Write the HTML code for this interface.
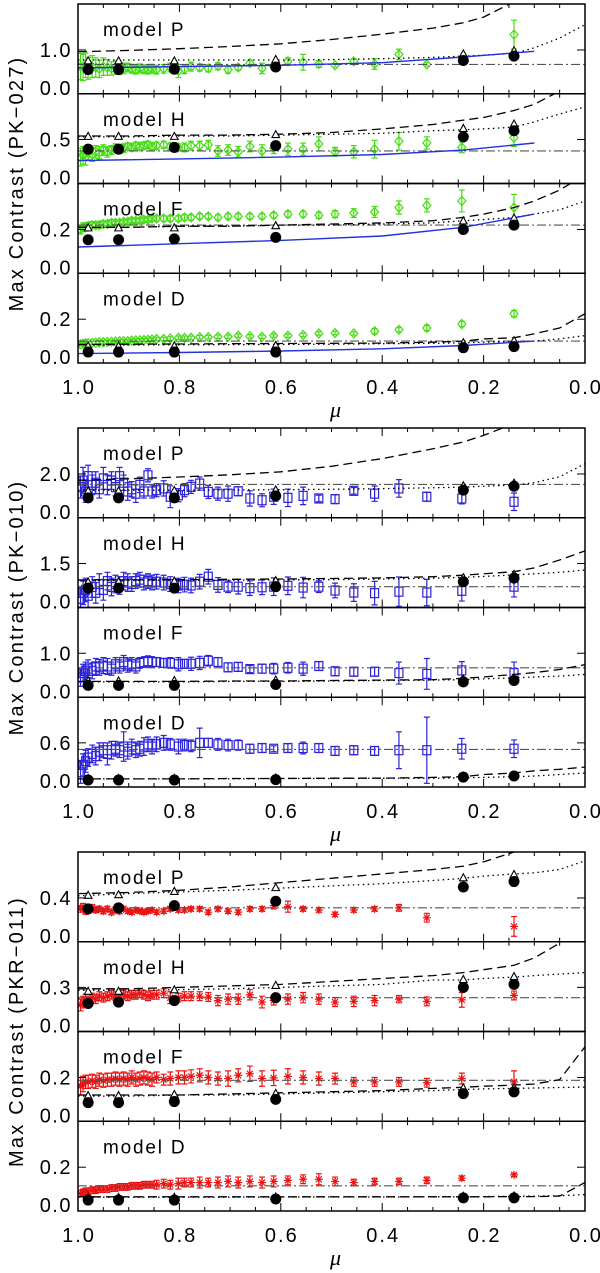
<!DOCTYPE html>
<html><head><meta charset="utf-8"><style>
html,body{margin:0;padding:0;background:#fff;}
svg{display:block;font-family:"Liberation Sans",sans-serif;}
</style></head><body>
<svg id="chart" width="600" height="1273" viewBox="0 0 600 1273" xmlns="http://www.w3.org/2000/svg"></svg>
<script>
// ---------- shared x positions ----------
const mu = [0.995,0.99,0.985,0.98,0.972,0.965,0.958,0.95,0.942,0.934,0.926,0.918,0.91,0.902,0.894,0.886,0.878,0.87,0.862,0.854,0.845,0.831,0.818,0.802,0.79,0.777,0.76,0.743,0.724,0.704,0.684,0.661,0.637,0.614,0.586,0.556,0.525,0.493,0.456,0.415,0.367,0.312,0.243,0.14];
const modelMu = [0.98,0.92,0.81,0.61,0.24,0.14];
const curveMu = [1,0.9,0.8,0.7,0.6,0.5,0.4,0.3,0.24,0.2,0.14,0.1,0.05,0];
const blueMu = [1,0.8,0.6,0.4,0.24,0.1];
const xTicks = [1.0,0.8,0.6,0.4,0.2,0.0];
const xTickLabels = ["1.0","0.8","0.6","0.4","0.2","0.0"];
const groupTitles = ["Max Contrast (PK\u2212027)","Max Contrast (PK\u2212010)","Max Contrast (PKR\u2212011)"];
const modelNames = ["P","H","F","D"];
const yRanges = [[2.05,1.02,0.41,0.41],[4.1,3.06,2.04,1.22],[0.82,0.61,0.41,0.41]];
const yTickVals = [[1.0,0.5,0.2,0.2],[2.0,1.5,1.0,0.6],[0.4,0.3,0.2,0.2]];
const yTickLabels = [["1.0","0.5","0.2","0.2"],["2.0","1.5","1.0","0.6"],["0.4","0.3","0.2","0.2"]];

// ---------- group 1 (PK-027, green diamonds) ----------
const g1P_val = [0.62,0.6,0.65,0.58,0.62,0.6,0.57,0.62,0.6,0.58,0.6,0.56,0.58,0.6,0.57,0.55,0.58,0.56,0.55,0.57,0.55,0.57,0.6,0.52,0.56,0.62,0.6,0.58,0.63,0.55,0.6,0.7,0.58,0.63,0.74,0.72,0.68,0.65,0.74,0.68,0.9,0.67,null,1.35];
const g1P_err = [0.3,0.3,0.28,0.25,0.25,0.22,0.2,0.2,0.18,0.15,0.15,0.12,0.12,0.1,0.1,0.1,0.1,0.1,0.1,0.1,0.1,0.1,0.1,0.15,0.1,0.1,0.08,0.08,0.08,0.08,0.06,0.06,0.12,0.06,0.08,0.18,0.08,0.04,0.06,0.12,0.12,0.04,0,0.33];
const g1H_val = [0.3,0.32,0.3,0.35,0.33,0.36,0.35,0.38,0.36,0.38,0.4,0.39,0.4,0.42,0.41,0.43,0.42,0.43,0.44,0.42,0.43,0.44,0.42,0.41,0.41,0.43,0.43,0.44,0.37,0.38,0.36,0.42,0.37,0.4,0.39,0.39,0.45,0.36,0.36,0.39,0.48,0.46,0.41,0.52];
const g1H_err = [0.1,0.1,0.09,0.08,0.08,0.07,0.07,0.06,0.06,0.05,0.05,0.05,0.05,0.04,0.04,0.04,0.04,0.04,0.04,0.04,0.04,0.04,0.04,0.04,0.05,0.05,0.05,0.05,0.06,0.06,0.06,0.06,0.07,0.06,0.07,0.07,0.08,0.05,0.07,0.1,0.1,0.07,0.06,0.1];
const g1F_val = [0.2,0.21,0.21,0.215,0.22,0.22,0.22,0.225,0.225,0.23,0.23,0.23,0.235,0.235,0.24,0.24,0.24,0.245,0.245,0.25,0.25,0.25,0.25,0.25,0.255,0.255,0.26,0.26,0.255,0.26,0.26,0.26,0.26,0.265,0.27,0.27,0.265,0.27,0.275,0.28,0.3,0.31,0.33,0.3];
const g1F_err = [0.02,0.02,0.018,0.018,0.016,0.016,0.015,0.015,0.014,0.014,0.013,0.013,0.012,0.012,0.012,0.012,0.012,0.012,0.012,0.012,0.012,0.012,0.012,0.012,0.012,0.012,0.012,0.012,0.012,0.012,0.012,0.012,0.012,0.012,0.014,0.014,0.014,0.016,0.02,0.025,0.03,0.03,0.05,0.06];
const g1D_val = [0.085,0.088,0.09,0.09,0.092,0.093,0.094,0.095,0.096,0.097,0.098,0.099,0.1,0.1,0.102,0.103,0.104,0.105,0.106,0.107,0.11,0.11,0.112,0.115,0.115,0.115,0.118,0.118,0.12,0.12,0.125,0.122,0.12,0.125,0.125,0.128,0.135,0.137,0.135,0.145,0.152,0.16,0.178,0.225];
const g1D_err = [0.008,0.008,0.008,0.008,0.008,0.008,0.008,0.008,0.008,0.008,0.008,0.008,0.008,0.008,0.008,0.008,0.008,0.008,0.008,0.008,0.008,0.008,0.008,0.008,0.008,0.008,0.008,0.008,0.008,0.008,0.008,0.008,0.008,0.008,0.008,0.008,0.008,0.008,0.008,0.012,0.01,0.012,0.012,0.015];
const g1P_dash = [0.96,0.99,1.03,1.08,1.14,1.24,1.36,1.5,1.62,1.75,2.1,2.4,2.8,3.2];
const g1P_dot = [0.77,0.77,0.77,0.77,0.77,0.78,0.8,0.83,0.86,0.88,0.92,1.05,1.27,1.58];
const g1H_dash = [0.54,0.54,0.55,0.55,0.56,0.58,0.62,0.67,0.72,0.75,0.83,0.9,1.05,1.2];
const g1H_dot = [0.53,0.53,0.54,0.54,0.55,0.56,0.57,0.6,0.61,0.62,0.64,0.7,0.79,0.87];
const g1F_dash = [0.21,0.21,0.215,0.215,0.22,0.225,0.23,0.24,0.255,0.27,0.3,0.33,0.38,0.45];
const g1F_dot = [0.21,0.21,0.215,0.215,0.22,0.22,0.225,0.23,0.24,0.245,0.255,0.27,0.29,0.33];
const g1D_dash = [0.085,0.086,0.087,0.088,0.089,0.09,0.091,0.095,0.1,0.11,0.115,0.134,0.16,0.225];
const g1D_dot = [0.082,0.083,0.083,0.084,0.085,0.086,0.088,0.09,0.092,0.095,0.098,0.1,0.11,0.125];
const g1_dashdot = [0.67,0.37,0.22,0.1];
const g1P_blue = [0.59,0.62,0.65,0.71,0.84,0.97];
const g1H_blue = [0.26,0.28,0.3,0.33,0.38,0.46];
const g1F_blue = [0.12,0.135,0.15,0.17,0.21,0.27];
const g1D_blue = [0.043,0.048,0.055,0.065,0.08,0.1];
const g1P_circ = [0.55,0.55,0.56,0.61,0.76,0.86];
const g1H_circ = [0.39,0.39,0.41,0.43,0.53,0.6];
const g1F_circ = [0.153,0.153,0.157,0.164,0.2,0.22];
const g1D_circ = [0.05,0.05,0.05,0.05,0.07,0.075];
const g1P_tri = [0.74,0.74,0.74,0.77,0.9,0.97];
const g1H_tri = [0.53,0.53,0.53,0.55,0.62,0.67];
const g1F_tri = [0.205,0.205,0.205,0.215,0.237,0.25];
const g1D_tri = [0.075,0.075,0.076,0.078,0.09,0.1];

// ---------- group 2 (PK-010, blue squares) ----------
const g2P_val = [1.4,1.7,1.2,1.9,1.5,1.6,1.3,1.8,1.5,1.7,1.4,1.9,1.6,1.2,1.3,1.1,1.5,1.2,1.94,1.2,1.26,1.34,0.96,1.03,1.26,1.41,1.56,1.18,1.1,1.1,1.21,0.88,0.8,0.96,0.91,1.0,0.88,0.85,1.23,1.1,1.34,0.96,0.88,0.73];
const g2P_err = [0.5,0.6,0.5,0.5,0.45,0.5,0.4,0.5,0.45,0.4,0.4,0.4,0.35,0.4,0.35,0.4,0.35,0.3,0.3,0.3,0.3,0.35,0.5,0.3,0.3,0.3,0.3,0.3,0.3,0.35,0.2,0.35,0.3,0.35,0.4,0.4,0.15,0.2,0.15,0.35,0.4,0.2,0.25,0.4];
const g2H_val = [0.3,0.5,0.6,0.4,0.7,0.5,0.8,0.6,0.9,0.7,0.8,0.75,0.9,0.85,0.8,0.9,0.95,0.85,0.9,0.85,0.88,0.85,0.8,0.75,0.78,0.75,0.88,1.05,0.77,0.71,0.71,0.66,0.69,0.71,0.74,0.68,0.71,0.58,0.51,0.49,0.54,0.51,0.57,0.71];
const g2H_err = [0.4,0.4,0.4,0.4,0.35,0.35,0.35,0.35,0.3,0.3,0.3,0.3,0.3,0.3,0.25,0.25,0.25,0.25,0.25,0.25,0.25,0.25,0.25,0.25,0.25,0.25,0.25,0.25,0.25,0.2,0.25,0.25,0.25,0.3,0.3,0.35,0.2,0.25,0.3,0.4,0.5,0.45,0.35,0.35];
const g2F_val = [0.45,0.55,0.6,0.65,0.6,0.7,0.68,0.72,0.7,0.65,0.75,0.7,0.8,0.72,0.75,0.7,0.78,0.8,0.82,0.8,0.8,0.78,0.78,0.75,0.76,0.76,0.78,0.83,0.8,0.68,0.69,0.64,0.65,0.65,0.67,0.65,0.71,0.59,0.58,0.58,0.55,0.53,0.61,0.55];
const g2F_err = [0.2,0.2,0.2,0.2,0.18,0.18,0.18,0.18,0.18,0.15,0.15,0.15,0.15,0.15,0.15,0.15,0.12,0.12,0.12,0.12,0.1,0.1,0.12,0.15,0.1,0.15,0.15,0.12,0.1,0.1,0.1,0.08,0.1,0.12,0.12,0.15,0.1,0.1,0.1,0.1,0.25,0.35,0.2,0.25];
const g2D_val = [0.2,0.3,0.35,0.4,0.45,0.42,0.48,0.5,0.45,0.5,0.52,0.5,0.55,0.48,0.55,0.5,0.52,0.55,0.58,0.55,0.58,0.6,0.58,0.55,0.57,0.56,0.6,0.6,0.58,0.57,0.57,0.52,0.53,0.52,0.53,0.53,0.53,0.49,0.5,0.49,0.5,0.5,0.52,0.52];
const g2D_err = [0.15,0.15,0.15,0.12,0.12,0.12,0.12,0.1,0.15,0.12,0.1,0.1,0.2,0.1,0.1,0.1,0.1,0.12,0.1,0.1,0.1,0.1,0.08,0.1,0.08,0.08,0.2,0.06,0.08,0.08,0.07,0.06,0.06,0.04,0.06,0.08,0.06,0.06,0.06,0.06,0.25,0.45,0.14,0.12];
const g2P_dash = [1.71,1.78,1.86,1.96,2.1,2.35,2.7,3.15,3.46,3.76,4.3,4.8,5.5,6];
const g2P_dot = [1.26,1.26,1.26,1.27,1.28,1.3,1.33,1.37,1.4,1.44,1.49,1.6,1.87,2.47];
const g2H_dash = [0.94,0.94,0.95,0.96,0.97,0.99,1.01,1.05,1.1,1.15,1.22,1.35,1.62,1.93];
const g2H_dot = [0.92,0.92,0.93,0.93,0.94,0.95,0.97,1.0,1.03,1.06,1.11,1.15,1.2,1.28];
const g2F_dash = [0.36,0.36,0.36,0.37,0.37,0.38,0.39,0.4,0.43,0.46,0.52,0.56,0.63,0.74];
const g2F_dot = [0.35,0.35,0.35,0.36,0.36,0.37,0.38,0.39,0.4,0.42,0.44,0.46,0.48,0.52];
const g2D_dash = [0.11,0.11,0.11,0.115,0.115,0.12,0.12,0.13,0.14,0.17,0.19,0.22,0.24,0.27];
const g2D_dot = [0.11,0.11,0.11,0.11,0.115,0.115,0.12,0.12,0.125,0.13,0.14,0.15,0.17,0.19];
const g2_dashdot = [1.52,0.71,0.67,0.51];
const g2P_circ = [0.91,0.91,0.91,1.0,1.26,1.44];
const g2H_circ = [0.66,0.66,0.66,0.71,0.88,1.0];
const g2F_circ = [0.27,0.27,0.27,0.29,0.35,0.38];
const g2D_circ = [0.095,0.095,0.095,0.1,0.135,0.15];
const g2P_tri = [1.2,1.2,1.22,1.25,1.44,1.56];
const g2H_tri = [0.85,0.86,0.88,0.9,1.0,1.11];
const g2F_tri = [0.36,0.36,0.37,0.38,0.4,0.42];
const g2D_tri = [0.11,0.11,0.11,0.115,0.14,0.15];

// ---------- group 3 (PKR-011, red asterisks) ----------
const g3P_val = [0.3,0.32,0.28,0.3,0.31,0.29,0.3,0.28,0.3,0.27,0.29,0.28,0.3,0.28,0.27,0.29,0.28,0.27,0.28,0.29,0.27,0.28,0.3,0.29,0.29,0.3,0.3,0.27,0.3,0.28,0.27,0.3,0.3,0.33,0.32,0.3,0.29,0.25,0.29,0.3,0.31,0.22,null,0.14];
const g3P_err = [0.03,0.03,0.03,0.03,0.03,0.025,0.025,0.025,0.025,0.025,0.025,0.025,0.02,0.02,0.02,0.02,0.02,0.02,0.02,0.02,0.02,0.02,0.02,0.02,0.02,0.02,0.02,0.02,0.02,0.02,0.02,0.02,0.02,0.03,0.05,0.02,0.02,0.02,0.02,0.02,0.03,0.04,0,0.09];
const g3H_val = [0.18,0.2,0.22,0.21,0.23,0.22,0.24,0.23,0.24,0.25,0.24,0.25,0.25,0.24,0.25,0.25,0.26,0.25,0.24,0.25,0.25,0.26,0.23,0.23,0.24,0.24,0.24,0.235,0.21,0.22,0.22,0.25,0.2,0.21,0.22,0.23,0.22,0.2,0.205,0.21,0.22,0.205,0.215,0.245];
const g3H_err = [0.04,0.04,0.035,0.03,0.03,0.03,0.03,0.03,0.03,0.03,0.03,0.03,0.03,0.03,0.03,0.03,0.03,0.03,0.03,0.03,0.03,0.03,0.04,0.03,0.03,0.03,0.03,0.03,0.035,0.035,0.035,0.035,0.04,0.03,0.035,0.035,0.035,0.03,0.035,0.035,0.025,0.03,0.05,0.03];
const g3F_val = [0.16,0.17,0.18,0.18,0.185,0.18,0.19,0.185,0.19,0.19,0.195,0.19,0.195,0.19,0.2,0.19,0.195,0.2,0.195,0.19,0.2,0.19,0.195,0.2,0.2,0.205,0.21,0.2,0.195,0.195,0.21,0.217,0.195,0.198,0.205,0.2,0.195,0.195,0.18,0.18,0.18,0.176,0.195,0.18];
const g3F_err = [0.04,0.035,0.03,0.03,0.03,0.03,0.03,0.03,0.03,0.03,0.03,0.03,0.03,0.03,0.03,0.03,0.03,0.03,0.03,0.03,0.025,0.025,0.03,0.03,0.03,0.03,0.03,0.03,0.03,0.035,0.03,0.035,0.035,0.035,0.035,0.03,0.03,0.025,0.02,0.02,0.02,0.02,0.025,0.05];
const g3D_val = [0.08,0.085,0.09,0.09,0.095,0.095,0.1,0.1,0.1,0.105,0.105,0.11,0.11,0.11,0.115,0.115,0.115,0.12,0.12,0.12,0.12,0.125,0.12,0.125,0.13,0.13,0.13,0.13,0.13,0.135,0.13,0.135,0.13,0.135,0.14,0.145,0.145,0.135,0.13,0.135,0.135,0.14,0.15,0.165];
const g3D_err = [0.015,0.015,0.015,0.015,0.015,0.015,0.015,0.015,0.015,0.015,0.015,0.015,0.015,0.015,0.015,0.015,0.015,0.015,0.015,0.015,0.02,0.02,0.02,0.025,0.02,0.02,0.025,0.02,0.025,0.025,0.025,0.025,0.025,0.025,0.02,0.02,0.025,0.02,0.015,0.015,0.015,0.015,0.01,0.008];
const g3P_dash = [0.44,0.45,0.47,0.5,0.54,0.58,0.62,0.66,0.69,0.73,0.82,0.9,1.0,1.1];
const g3P_dot = [0.42,0.44,0.455,0.47,0.49,0.51,0.53,0.56,0.58,0.6,0.62,0.63,0.66,0.74];
const g3H_dash = [0.29,0.29,0.3,0.31,0.32,0.34,0.36,0.38,0.4,0.42,0.45,0.5,0.6,0.7];
const g3H_dot = [0.28,0.28,0.285,0.29,0.3,0.31,0.32,0.35,0.35,0.36,0.37,0.38,0.39,0.4];
const g3F_dash = [0.12,0.12,0.12,0.125,0.13,0.135,0.14,0.15,0.155,0.16,0.165,0.17,0.19,0.34];
const g3F_dot = [0.115,0.115,0.12,0.12,0.125,0.13,0.135,0.14,0.145,0.148,0.15,0.152,0.154,0.156];
const g3D_dash = [0.065,0.065,0.065,0.065,0.065,0.065,0.065,0.065,0.065,0.065,0.066,0.066,0.068,0.13];
const g3D_dot = [0.063,0.063,0.063,0.063,0.064,0.064,0.064,0.065,0.065,0.066,0.067,0.068,0.07,0.075];
const g3_dashdot = [0.31,0.23,0.187,0.115];
const g3P_circ = [0.3,0.31,0.33,0.37,0.5,0.55];
const g3H_circ = [0.19,0.2,0.21,0.23,0.3,0.32];
const g3F_circ = [0.085,0.085,0.09,0.1,0.126,0.134];
const g3D_circ = [0.05,0.05,0.05,0.055,0.06,0.06];
const g3P_tri = [0.42,0.425,0.455,0.49,0.58,0.61];
const g3H_tri = [0.27,0.27,0.28,0.31,0.35,0.37];
const g3F_tri = [0.115,0.115,0.12,0.125,0.15,0.15];
const g3D_tri = [0.06,0.06,0.06,0.062,0.065,0.066];

const groups = [
  {top:4, color:"#44dd11", marker:"diamond", name:"pk027",
   val:[g1P_val,g1H_val,g1F_val,g1D_val], err:[g1P_err,g1H_err,g1F_err,g1D_err],
   dash:[g1P_dash,g1H_dash,g1F_dash,g1D_dash], dot:[g1P_dot,g1H_dot,g1F_dot,g1D_dot], dd:g1_dashdot,
   blue:[g1P_blue,g1H_blue,g1F_blue,g1D_blue],
   circ:[g1P_circ,g1H_circ,g1F_circ,g1D_circ], tri:[g1P_tri,g1H_tri,g1F_tri,g1D_tri]},
  {top:428, color:"#2b22dd", marker:"square", name:"pk010",
   val:[g2P_val,g2H_val,g2F_val,g2D_val], err:[g2P_err,g2H_err,g2F_err,g2D_err],
   dash:[g2P_dash,g2H_dash,g2F_dash,g2D_dash], dot:[g2P_dot,g2H_dot,g2F_dot,g2D_dot], dd:g2_dashdot,
   blue:null,
   circ:[g2P_circ,g2H_circ,g2F_circ,g2D_circ], tri:[g2P_tri,g2H_tri,g2F_tri,g2D_tri]},
  {top:852, color:"#ee1111", marker:"star", name:"pkr011",
   val:[g3P_val,g3H_val,g3F_val,g3D_val], err:[g3P_err,g3H_err,g3F_err,g3D_err],
   dash:[g3P_dash,g3H_dash,g3F_dash,g3D_dash], dot:[g3P_dot,g3H_dot,g3F_dot,g3D_dot], dd:g3_dashdot,
   blue:null,
   circ:[g3P_circ,g3H_circ,g3F_circ,g3D_circ], tri:[g3P_tri,g3H_tri,g3F_tri,g3D_tri]}
];

const NS = "http://www.w3.org/2000/svg";
const svg = document.getElementById("chart");
const X0 = 78, X1 = 585, PH = 89.75;
function xs(m){ return X0 + (1 - m) * (X1 - X0); }
function mk(tag, attrs, parent){
  const e = document.createElementNS(NS, tag);
  for (const k in attrs) e.setAttribute(k, attrs[k]);
  (parent || svg).appendChild(e);
  return e;
}
const defs = mk("defs", {});

groups.forEach((g, gi) => {
  const gEl = mk("g", {});
  
  
  const gBottom = g.top + 4 * PH;
  for (let p = 0; p < 4; p++) {
    const top = g.top + p * PH, bot = top + PH, R = yRanges[gi][p];
    const ys = v => bot - v / R * PH;
    const cid = "clip" + gi + p;
    const cp = mk("clipPath", {id: cid}, defs);
    mk("rect", {x: X0, y: top, width: X1 - X0, height: PH}, cp);
    const pEl = mk("g", {}, gEl);
    
    
    const plot = mk("g", {"clip-path": "url(#" + cid + ")"}, pEl);
    const vals = g.val[p], errs = g.err[p];
    for (let i = 0; i < mu.length; i++) {
      if (vals[i] === null) continue;
      const x = xs(mu[i]), y = ys(vals[i]);
      const pt = mk("g", {stroke: g.color, fill: "none", "stroke-width": 1.2}, plot);
      
      
      const e = errs[i] / R * PH;
      if (e > 1) {
        mk("line", {x1: x, y1: y - e, x2: x, y2: y + e}, pt);
        mk("line", {x1: x - 3, y1: y - e, x2: x + 3, y2: y - e}, pt);
        mk("line", {x1: x - 3, y1: y + e, x2: x + 3, y2: y + e}, pt);
      }
      if (g.marker === "diamond") {
        mk("polygon", {points: `${x},${y-4.5} ${x+4},${y} ${x},${y+4.5} ${x-4},${y}`}, pt);
      } else if (g.marker === "square") {
        mk("rect", {x: x - 4, y: y - 4.5, width: 8, height: 9}, pt);
      } else {
        mk("path", {d: `M${x-4},${y}H${x+4}M${x},${y-4}V${y+4}M${x-3},${y-3}L${x+3},${y+3}M${x-3},${y+3}L${x+3},${y-3}`}, pt);
      }
    }
    const ddy = ys(g.dd[p]);
    const dd = mk("line", {x1: X0, y1: ddy, x2: X1, y2: ddy, stroke: "#555", "stroke-width": 1.1, "stroke-dasharray": "9,3,2,3"}, plot);
    
    
    const pathOf = arr => curveMu.map((m, i) => (i ? "L" : "M") + xs(m).toFixed(1) + "," + ys(arr[i]).toFixed(1)).join("");
    const dsh = mk("path", {d: pathOf(g.dash[p]), fill: "none", stroke: "#000", "stroke-width": 1.3, "stroke-dasharray": "9,5"}, plot);
    
    
    const dtt = mk("path", {d: pathOf(g.dot[p]), fill: "none", stroke: "#000", "stroke-width": 1.3, "stroke-dasharray": "1.5,3.5"}, plot);
    
    
    if (g.blue) {
      const bl = mk("path", {d: blueMu.map((m, i) => (i ? "L" : "M") + xs(m).toFixed(1) + "," + ys(g.blue[p][i]).toFixed(1)).join(""), fill: "none", stroke: "#2233dd", "stroke-width": 1.4}, plot);
      
      
    }
    for (let i = 0; i < modelMu.length; i++) {
      const x = xs(modelMu[i]);
      const ty = ys(g.tri[p][i]);
      const t = mk("polygon", {points: `${x},${ty-4.5} ${x+3.8},${ty+2.5} ${x-3.8},${ty+2.5}`, fill: "#fff", stroke: "#000", "stroke-width": 1.1}, plot);
      
      
    }
    for (let i = 0; i < modelMu.length; i++) {
      const c = mk("circle", {cx: xs(modelMu[i]), cy: ys(g.circ[p][i]), r: 5.5, fill: "#000"}, plot);
      
      
    }
    const fr = mk("rect", {x: X0, y: top, width: X1 - X0, height: PH, fill: "none", stroke: "#000", "stroke-width": 1.5}, pEl);
    
    
    for (let k = 0; k <= 20; k++) {
      const m = k * 0.05, x = xs(m), L = (k % 4 === 0) ? 8 : 4;
      mk("line", {x1: x, y1: bot, x2: x, y2: bot - L, stroke: "#000", "stroke-width": 1}, pEl);
      mk("line", {x1: x, y1: top, x2: x, y2: top + L, stroke: "#000", "stroke-width": 1}, pEl);
    }
    const ty = ys(yTickVals[gi][p]);
    mk("line", {x1: X0, y1: ty, x2: X0 + 8, y2: ty, stroke: "#000", "stroke-width": 1}, pEl);
    mk("line", {x1: X1, y1: ty, x2: X1 - 8, y2: ty, stroke: "#000", "stroke-width": 1}, pEl);
    const tl = mk("text", {x: 72, y: ty + 7, "text-anchor": "end", "font-size": 20, "letter-spacing": 1.5}, pEl);
    tl.textContent = yTickLabels[gi][p];
    
    
    const zl = mk("text", {x: 72, y: bot + 1, "text-anchor": "end", "font-size": 20, "letter-spacing": 1.5}, pEl);
    zl.textContent = "0.0";
    
    
    const ml = mk("text", {x: 103, y: top + 32, "font-size": 19, "letter-spacing": 1.8, "xml:space": "preserve"}, pEl);
    ml.textContent = "model  " + modelNames[p];
    
    
  }
  xTicks.forEach((m, i) => {
    const t = mk("text", {x: xs(m) + 1, y: gBottom + 31, "text-anchor": "middle", "font-size": 20, "letter-spacing": 2}, gEl);
    t.textContent = xTickLabels[i];
    
    
  });
  const mt = mk("text", {x: (X0 + X1) / 2 + 4, y: gBottom + 54, "text-anchor": "middle", "font-size": 22, "font-style": "italic", "font-family": "Liberation Serif, serif"}, gEl);
  mt.textContent = "\u03BC";
  
  
  const cy = g.top + 2 * PH;
  const yt = mk("text", {x: 0, y: 0, "text-anchor": "middle", "font-size": 20, "letter-spacing": 2.2, transform: `translate(23,${cy}) rotate(-90)`}, gEl);
  yt.textContent = groupTitles[gi];
  
  
});
</script>
</body></html>
